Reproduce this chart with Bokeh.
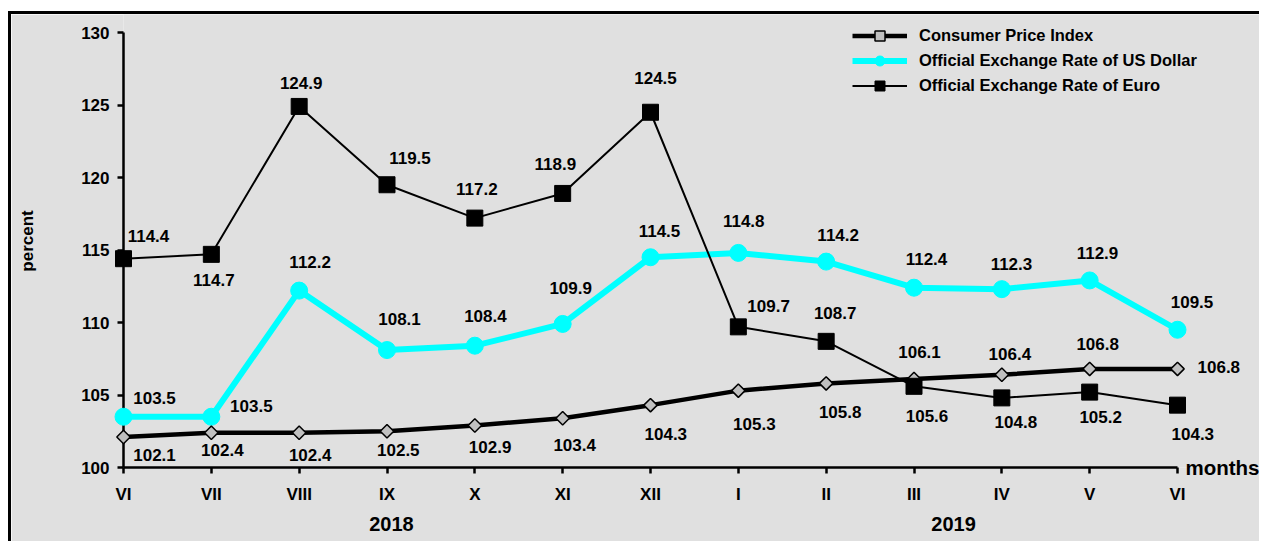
import numpy as np
from bokeh.plotting import figure
from bokeh.models import (ColumnDataSource, LabelSet, Legend, LegendItem,
                          LinearAxis, FixedTicker, Range1d)
from bokeh.core.properties import value
from bokeh.embed import file_html
from bokeh.resources import INLINE

# ---------------- data ----------------
months = ["VI", "VII", "VIII", "IX", "X", "XI", "XII", "I", "II", "III", "IV", "V", "VI"]
years = ["2018", "2019"]
year_pos = [3.05, 9.45]
cpi = [102.1, 102.4, 102.4, 102.5, 102.9, 103.4, 104.3, 105.3, 105.8, 106.1, 106.4, 106.8, 106.8]
usd = [103.5, 103.5, 112.2, 108.1, 108.4, 109.9, 114.5, 114.8, 114.2, 112.4, 112.3, 112.9, 109.5]
eur = [114.4, 114.7, 124.9, 119.5, 117.2, 118.9, 124.5, 109.7, 108.7, 105.6, 104.8, 105.2, 104.3]
y_ticks = [100, 105, 110, 115, 120, 125, 130]

# value-label offsets in screen pixels (dx to the right, dy upwards)
cpi_dx = [31, 11, 11, 11.3, 15.3, 12, 15.3, 16, 14, 5.5, 8, 8, 41.3]
cpi_dy = [-17.5, -17, -22, -18.6, -21.5, -26.7, -29.3, -33.7, -29, 27, 20.7, 25.3, 2.3]
usd_dx = [31, 40, 11, 12.5, 10.6, 8, 9, 5.4, 12, 12.5, 9.6, 7.8, 14.5]
usd_dy = [18.4, 10.4, 29, 31.4, 30, 35.7, 26.7, 32, 27, 28.3, 25.6, 27, 27.4]
eur_dx = [25, 2.5, 2, 23, 2, -7.3, 5, 30.3, 9, 13, 14, 11, 15.3]
eur_dy = [23, -25.7, 23.7, 26.7, 28.7, 29.3, 34, 20.7, 28, -29.6, -23.7, -24.6, -29]

x = list(range(len(months)))

FONT = "Liberation Sans"
BG = "#e0e0e0"
CYAN = "#00ffff"

# ---------------- layout (pixels) ----------------
W, H = 1251, 530            # canvas size (3px of it hidden behind the left/top border)
BORDER_L = 112              # canvas x of first month
AXIS_B = 77                 # space below the value axis
PLOT_W = 1054               # pixel span of the 12 month steps
PLOT_H = 435                # pixel span of 100..130
frame_w = W - BORDER_L
frame_h = H - AXIS_B
x_end = (len(months) - 1) * frame_w / PLOT_W
y0, y1 = min(y_ticks), max(y_ticks)
y_end = y0 + (y1 - y0) * frame_h / PLOT_H

p = figure(width=W, height=H, output_backend="svg", toolbar_location=None,
           x_range=Range1d(0, x_end), y_range=Range1d(y0, y_end),
           min_border_left=BORDER_L, min_border_right=0, min_border_top=0,
           min_border_bottom=AXIS_B,
           background_fill_color=BG, border_fill_color=BG, outline_line_color=None,
           styles={"margin-left": "8px", "margin-top": "11px", "overflow": "hidden",
                   "border-left": "3px solid black", "border-top": "3px solid black"})

p.grid.visible = False

# x axis (months)
xa = p.xaxis[0]
xa.ticker = FixedTicker(ticks=x)
xa.bounds = (0, len(months) - 1)
xa.major_label_overrides = {i: m for i, m in enumerate(months)}
xa.minor_tick_line_color = None
xa.major_tick_in = 0
xa.major_tick_out = 6
xa.axis_line_width = 2.5
xa.major_tick_line_width = 2.5
xa.major_label_standoff = 11
xa.major_label_text_font = FONT
xa.major_label_text_font_style = "bold"
xa.major_label_text_font_size = "17px"
xa.major_label_text_color = "black"

# year axis
ya2 = LinearAxis(ticker=FixedTicker(ticks=year_pos),
                 major_label_overrides={yp: yr for yp, yr in zip(year_pos, years)},
                 axis_line_color=None, major_tick_line_color=None, minor_tick_line_color=None,
                 major_label_standoff=4, major_label_text_font=FONT,
                 major_label_text_font_style="bold", major_label_text_font_size="20px",
                 major_label_text_color="black")
p.add_layout(ya2, "below")

# y axis
ya = p.yaxis[0]
ya.ticker = FixedTicker(ticks=y_ticks)
ya.bounds = (y0, y1)
ya.minor_tick_line_color = None
ya.major_tick_in = 0
ya.major_tick_out = 6
ya.axis_line_width = 2.5
ya.major_tick_line_width = 2.5
ya.major_label_standoff = 8
ya.major_label_text_font = FONT
ya.major_label_text_font_style = "bold"
ya.major_label_text_font_size = "17px"
ya.major_label_text_color = "black"
ya.axis_label = "percent"
ya.axis_label_text_font = FONT
ya.axis_label_text_font_style = "bold"
ya.axis_label_text_font_size = "17px"
ya.axis_label_text_color = "black"
ya.axis_label_standoff = 41

# series
src_cpi = ColumnDataSource(dict(x=x, y=cpi, t=[f"{v:.1f}" for v in cpi], dx=cpi_dx, dy=cpi_dy))
src_usd = ColumnDataSource(dict(x=x, y=usd, t=[f"{v:.1f}" for v in usd], dx=usd_dx, dy=usd_dy))
src_eur = ColumnDataSource(dict(x=x, y=eur, t=[f"{v:.1f}" for v in eur], dx=eur_dx, dy=eur_dy))

LVL = "annotation"
usd_line = p.line("x", "y", source=src_usd, line_color=CYAN, line_width=6, level=LVL)
usd_pts = p.scatter("x", "y", source=src_usd, marker="circle", size=17,
                    fill_color=CYAN, line_color=CYAN, level=LVL)
cpi_line = p.line("x", "y", source=src_cpi, line_color="black", line_width=4.5, level=LVL)
cpi_pts = p.scatter("x", "y", source=src_cpi, marker="square", angle=np.pi / 4, size=9.5,
                    fill_color="#c0c0c0", line_color="black", line_width=1.5, level=LVL)
eur_line = p.line("x", "y", source=src_eur, line_color="black", line_width=2, level=LVL)
eur_pts = p.scatter("x", "y", source=src_eur, marker="square", size=16,
                    fill_color="black", line_color="black", line_width=1, level=LVL)

for src in (src_cpi, src_usd, src_eur):
    ls = LabelSet(x="x", y="y", text="t", x_offset="dx", y_offset="dy", source=src,
                  text_align="center", text_baseline="middle", text_font=value(FONT),
                  text_font_style="bold", text_font_size="17px", text_color="black")
    p.add_layout(ls)

# axis-end caption, drawn as an unclipped text glyph at the end of the month axis
p.text(x=[x[-1]], y=[y0], text=["months"], x_offset=8, text_baseline="middle",
       text_align="left", text_font=value(FONT), text_font_style="bold",
       text_font_size="20.5px", text_color="black", level=LVL)

legend = Legend(items=[
    LegendItem(label="Consumer Price Index", renderers=[cpi_line, cpi_pts]),
    LegendItem(label="Official Exchange Rate of US Dollar", renderers=[usd_line, usd_pts]),
    LegendItem(label="Official Exchange Rate of Euro", renderers=[eur_line, eur_pts]),
], location=(729, 369), padding=0, margin=0, spacing=0, glyph_width=55, glyph_height=25,
    label_height=25, label_standoff=12, border_line_color=None, background_fill_alpha=0,
    label_text_font=FONT, label_text_font_style="bold", label_text_font_size="16.5px",
    label_text_color="black")
p.add_layout(legend)

open("out.html", "w").write(file_html(p, INLINE))
